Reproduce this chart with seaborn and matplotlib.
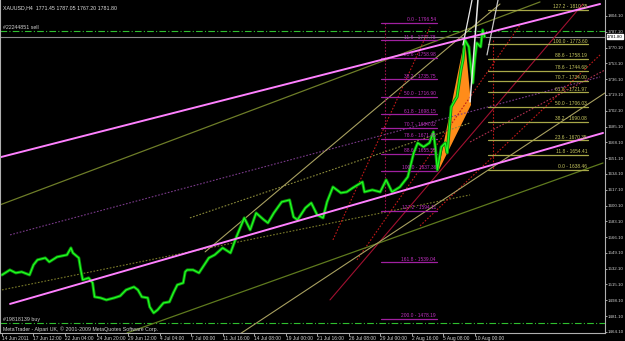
import matplotlib
matplotlib.use('Agg')
import matplotlib.pyplot as plt
import matplotlib.transforms as mtransforms
import seaborn as sns
import pandas as pd

# ---------------- data ----------------
bars = [1, 5, 8, 11, 15, 17, 19, 23, 25, 29, 34, 36, 37, 40, 41, 42, 45, 47, 48, 51,
        54, 58, 61, 64, 68, 70, 72, 75, 76, 78, 80, 83, 86, 88, 90, 93, 94, 95, 98, 101,
        106, 109, 113, 117, 120, 124, 127, 130, 134, 136, 139, 143, 147, 149, 151, 155,
        158, 161, 164, 166, 169, 173, 176, 179, 184, 185, 189, 193, 196, 199, 203, 207,
        210, 212, 215, 218, 220, 221, 222, 224, 226, 227, 229, 231, 232, 234, 235, 236,
        238, 239, 240, 241, 242, 244, 245, 246]
closes = [1525.4, 1530.8, 1527.6, 1528.7, 1525.4, 1536.2, 1541.6, 1543.7, 1539.4, 1544.8,
          1547.0, 1554.5, 1549.1, 1543.7, 1530.8, 1520.1, 1522.2, 1516.8, 1501.8, 1500.7,
          1498.5, 1500.7, 1502.8, 1509.3, 1512.5, 1509.3, 1501.8, 1500.7, 1491.0, 1484.5,
          1487.8, 1495.3, 1496.4, 1506.1, 1514.7, 1516.8, 1528.7, 1530.8, 1530.8, 1527.6,
          1543.7, 1547.0, 1554.5, 1549.1, 1566.3, 1586.8, 1573.9, 1592.1, 1584.6, 1581.4,
          1592.1, 1604.0, 1606.1, 1587.8, 1584.6, 1597.5, 1602.9, 1590.0, 1586.8, 1604.0,
          1620.1, 1613.7, 1614.7, 1619.0, 1625.5, 1614.7, 1616.9, 1614.7, 1627.7, 1614.7,
          1620.1, 1630.9, 1656.7, 1667.5, 1663.2, 1667.5, 1679.3, 1662.1, 1638.4, 1663.2,
          1667.5, 1656.7, 1706.2, 1713.7, 1717.0, 1746.0, 1756.8, 1778.3, 1770.8, 1749.2,
          1732.0, 1756.8, 1775.1, 1770.8, 1789.1, 1781.8]

x_tick_bars = [1, 17, 33, 49, 65, 81, 97, 113, 129, 145, 161, 177, 193, 209, 225, 241]
x_tick_labels = ["14 Jun 2011", "17 Jun 12:00", "22 Jun 04:00", "24 Jun 20:00",
                 "29 Jun 12:00", "4 Jul 04:00", "7 Jul 00:00", "11 Jul 16:00",
                 "14 Jul 08:00", "19 Jul 00:00", "21 Jul 16:00", "26 Jul 08:00",
                 "29 Jul 00:00", "2 Aug 16:00", "5 Aug 08:00", "10 Aug 00:00"]
y_ticks = [1464.10, 1481.10, 1498.10, 1515.10, 1532.10, 1549.10, 1566.10, 1583.10,
           1600.10, 1617.10, 1634.10, 1651.10, 1668.10, 1685.10, 1702.10, 1719.10,
           1736.10, 1753.10, 1770.10, 1787.10, 1804.10]

fib_left_levels = ['0.0', '11.8', '23.6', '38.2', '50.0', '61.8', '70.7', '78.6',
                   '88.6', '100.0', '127.2', '161.8', '200.0']
fib_left_prices = [1796.54, 1777.78, 1758.98, 1735.75, 1716.90, 1698.15, 1684.02,
                   1671.45, 1655.55, 1637.36, 1594.11, 1539.04, 1478.19]
fib_left_span = [193.4, 221.8]

fib_right_levels = ['127.2', '100.0', '88.6', '78.6', '70.7', '61.8', '50.0', '38.2',
                    '23.6', '11.8', '0.0']
fib_right_prices = [1810.35, 1773.60, 1758.19, 1744.68, 1734.00, 1721.97, 1706.03,
                    1690.08, 1670.35, 1654.41, 1638.46]
fib_right_span = [247.7, 298.5]

# trend lines: [bar0, price0, bar1, price1]
pink_upper = [0, 1652.0, 304.6, 1817.0]
pink_lower = [5.1, 1494.2, 306.1, 1678.2]
olive_upper = [0, 1600.8, 274.1, 1819.2]
olive_lower = [64.5, 1463.0, 306.1, 1645.9]
khaki_steep = [121.8, 1461.9, 307.1, 1721.3]
khaki_mid = [104.1, 1550.2, 253.8, 1817.0]
purple_dotted = [5.1, 1568.5, 304.6, 1738.5]
olive_dotted_low = [1, 1509.3, 238.6, 1611.5]
olive_dotted_high = [96.4, 1586.8, 238.6, 1689.0]
red_dotted_1 = [169.0, 1563.1, 218.3, 1792.3]
red_dotted_2 = [181.2, 1541.6, 264.0, 1794.4]
red_dotted_3 = [213.2, 1578.2, 304.6, 1762.2]
red_dotted_4 = [238.6, 1668.5, 307.1, 1746.0]
crimson_line = [167.5, 1498.5, 295.9, 1817.0]
white_1 = [235.0, 1772.9, 239.6, 1821.3]
white_2 = [238.6, 1711.6, 242.6, 1821.3]
white_3 = [247.2, 1762.2, 252.8, 1821.3]

orange_bars = [222.3, 236.0, 239.1]
orange_prices = [1636.3, 1780.4, 1708.4]

vline_left = [195.4, 1796.5, 1594.0]
vline_right = [250.3, 1778.0, 1638.4]

sell_level = 1788.0
buy_level = 1473.8
bid_price = 1781.80
header = "XAUUSD,H4  1771.45 1787.05 1767.20 1781.80"

# ---------------- drawing ----------------
sns.set_style('dark', {'axes.facecolor': 'black', 'figure.facecolor': 'black'})
plt.rcParams['font.family'] = ['Liberation Sans', 'DejaVu Sans']

FS = 3.5
YFS = 3.2
fig = plt.figure(figsize=(6.25, 3.41), dpi=100, facecolor='black')
ax = fig.add_axes([0.0, 8 / 341, 605 / 625, 1 - 8 / 341])
ax.set_facecolor('black')
ax.set_xlim(0, 307.1)
ax.set_ylim(1462.9, 1821.3)


def seg(line, **kw):
    ax.plot([line[0], line[2]], [line[1], line[3]], **kw)


# horizontal order lines
ax.axhline(sell_level, color='#2fbf2f', lw=0.8, ls=(0, (6, 2, 1, 2)))
ax.axhline(buy_level, color='#2fbf2f', lw=0.8, ls=(0, (6, 2, 1, 2)))
ax.axhline(bid_price, color='#8a8a8a', lw=0.8)

# dotted / thin lines
seg(purple_dotted, color='#7a3a8a', lw=0.8, ls=(0, (1.5, 1.5)))
seg(olive_dotted_low, color='#7a7a2a', lw=0.8, ls=(0, (1.5, 1.5)))
seg(olive_dotted_high, color='#8a8a3a', lw=0.8, ls=(0, (1.5, 1.5)))
seg(red_dotted_1, color='#c01818', lw=0.8, ls=(0, (1.5, 1.5)))
seg(red_dotted_2, color='#c01818', lw=0.8, ls=(0, (1.5, 1.5)))
seg(red_dotted_3, color='#c01818', lw=0.8, ls=(0, (1.5, 1.5)))
seg(red_dotted_4, color='#b03050', lw=0.8, ls=(0, (1.5, 1.5)))
seg(crimson_line, color='#a01030', lw=0.8)
seg(olive_upper, color='#6e7d28', lw=0.9)
seg(olive_lower, color='#5f7a1e', lw=0.9)
seg(khaki_steep, color='#a8a060', lw=0.8)
seg(khaki_mid, color='#a8a060', lw=0.8)

ax.plot([vline_left[0], vline_left[0]], vline_left[1:], color='#a0104a', lw=0.8,
        ls=(0, (1.5, 1.5)))
ax.plot([vline_right[0], vline_right[0]], vline_right[1:], color='#c01818', lw=0.8,
        ls=(0, (1.5, 1.5)))

# fib sets
for lvl, p in zip(fib_left_levels, fib_left_prices):
    ax.plot(fib_left_span, [p, p], color='#a020a0', lw=0.9)
    ax.text(fib_left_span[1] - 0.5, p + 0.8, f"{lvl} - {p:.2f}", color='#c030c0',
            fontsize=FS, ha='right', va='bottom')
for lvl, p in zip(fib_right_levels, fib_right_prices):
    ax.plot(fib_right_span, [p, p], color='#a8a848', lw=0.9)
    ax.text(fib_right_span[1] - 0.5, p + 0.8, f"{lvl} - {p:.2f}", color='#c8c860',
            fontsize=FS, ha='right', va='bottom')

# orange pattern
ax.fill(orange_bars, orange_prices, color='#ff8c1a', lw=0)

# price
df = pd.DataFrame({'bar': bars, 'close': closes})
sns.lineplot(data=df, x='bar', y='close', ax=ax, color='#0a8f0a', lw=2.2, legend=False)
sns.lineplot(data=df, x='bar', y='close', ax=ax, color='#22ff22', lw=0.9, legend=False)

# white lines
seg(white_1, color='#e8e8e8', lw=0.9)
seg(white_2, color='#e8e8e8', lw=1.1)
seg(white_3, color='#c8c8c8', lw=0.9)

# pink channel
seg(pink_upper, color='#ff80ff', lw=1.4)
seg(pink_lower, color='#ff80ff', lw=1.4)

# axes styling
ax.set_xlabel('')
ax.set_ylabel('')
ax.spines['top'].set_visible(False)
for s in ['right', 'bottom', 'left']:
    ax.spines[s].set_visible(True)
    ax.spines[s].set_color('#b0b0b0')
    ax.spines[s].set_linewidth(0.8)
ax.grid(False)
ax.yaxis.tick_right()
ax.set_yticks(y_ticks)
ax.set_yticklabels([f"{v:.2f}" for v in y_ticks])
ax.set_xticks(x_tick_bars)
ax.set_xticklabels(x_tick_labels)
ax.tick_params(axis='y', colors='#c0c0c0', labelsize=YFS, length=1.5, width=0.6, pad=0.4,
               direction='out', right=True, left=False)
ax.tick_params(axis='x', colors='#c0c0c0', labelsize=FS, length=2, width=0.6, pad=0.3,
               direction='out', bottom=True)
for lab in ax.get_xticklabels():
    lab.set_ha('left')
    lab.set_color('#d0d0d0')
for lab in ax.get_yticklabels():
    lab.set_color('#d0d0d0')

# current price tag
tr = mtransforms.blended_transform_factory(ax.transAxes, ax.transData)
ax.text(1.003, bid_price, f"{bid_price:.2f}", transform=tr, fontsize=YFS, color='black',
        va='center', ha='left',
        bbox=dict(boxstyle='square,pad=0.05', fc='white', ec='white'))

# texts
ax.text(0.005, 0.985, header, transform=ax.transAxes, fontsize=FS + 0.3, color='#e0e0e0',
        va='top', ha='left')
ax.text(0.005, sell_level + 1.5, "#22244851 sell", color='#d0d0d0', fontsize=FS + 0.3,
        va='bottom', ha='left', transform=tr)
ax.text(0.005, buy_level + 0.6, "#19818139 buy", color='#d0d0d0', fontsize=FS + 0.3,
        va='bottom', ha='left', transform=tr)
ax.text(0.005, 0.004, "MetaTrader - Alpari UK, \u00a9 2001-2009 MetaQuotes Software Corp.",
        transform=ax.transAxes, fontsize=FS + 0.3, color='#d0d0d0', va='bottom', ha='left')

fig.savefig('out.png', dpi=100, facecolor='black')
